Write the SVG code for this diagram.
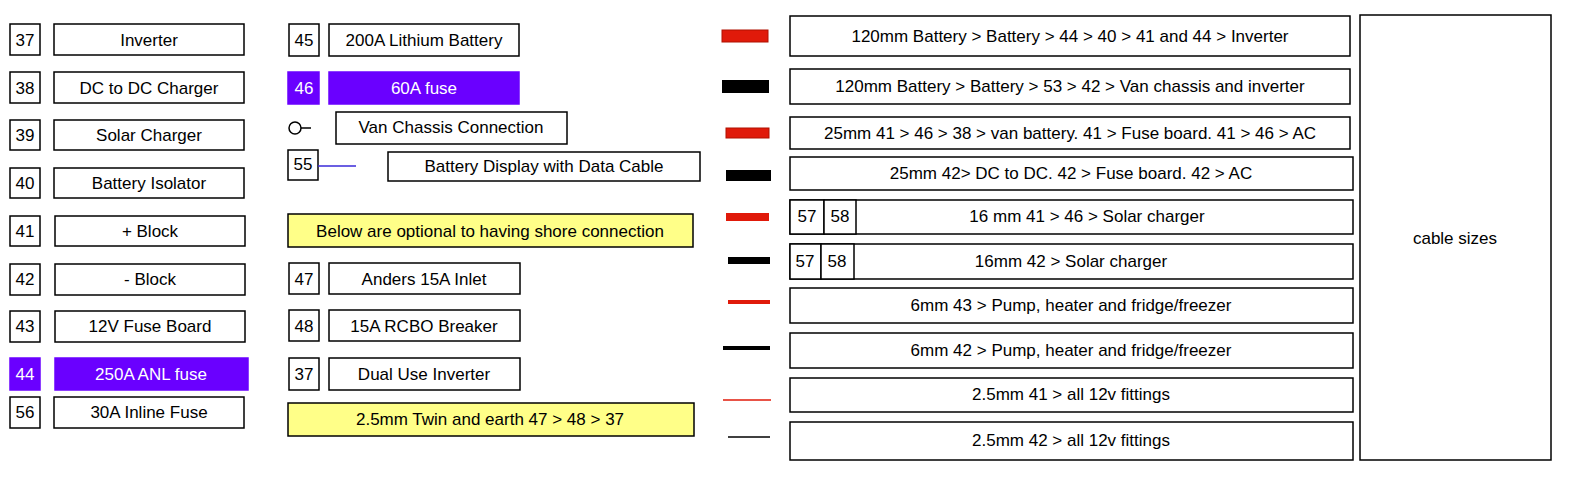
<svg xmlns="http://www.w3.org/2000/svg" width="1577" height="489" viewBox="0 0 1577 489">
<style>
rect{fill:#fff;stroke:#000;stroke-width:1.5}
.p{fill:#6a00ff;stroke:#6a00ff}
.y{fill:#ffff88}
text{font-family:"Liberation Sans",Arial,sans-serif;font-size:17px;text-anchor:middle;dominant-baseline:central;fill:#000}
.w{fill:#fff}
.s{stroke:none}
</style>
<rect width="1577" height="489" style="stroke:none"/>
<g id="n37"><rect x="10" y="24" width="30" height="31"/><text x="25" y="40">37</text><rect x="54" y="24" width="190" height="31"/><text x="149" y="40">Inverter</text></g>
<g id="n38"><rect x="10" y="72" width="30" height="31"/><text x="25" y="88">38</text><rect x="54" y="72" width="190" height="31"/><text x="149" y="88">DC to DC Charger</text></g>
<g id="n39"><rect x="10" y="120" width="30" height="30"/><text x="25" y="135">39</text><rect x="54" y="120" width="190" height="30"/><text x="149" y="135">Solar Charger</text></g>
<g id="n40"><rect x="10" y="168" width="30" height="30"/><text x="25" y="183">40</text><rect x="54" y="168" width="190" height="30"/><text x="149" y="183">Battery Isolator</text></g>
<g id="n41"><rect x="10" y="216" width="30" height="30"/><text x="25" y="231">41</text><rect x="55" y="216" width="190" height="30"/><text x="150" y="231">+ Block</text></g>
<g id="n42"><rect x="10" y="264" width="30" height="31"/><text x="25" y="279">42</text><rect x="55" y="264" width="190" height="31"/><text x="150" y="279">- Block</text></g>
<g id="n43"><rect x="10" y="311" width="30" height="31"/><text x="25" y="326">43</text><rect x="55" y="311" width="190" height="31"/><text x="150" y="326">12V Fuse Board</text></g>
<g id="n44"><rect class="p" x="10" y="358" width="30" height="32"/><text class="w" x="25" y="374">44</text><rect class="p" x="55" y="358" width="193" height="32"/><text class="w" x="151" y="374">250A  ANL fuse</text></g>
<g id="n56"><rect x="10" y="397" width="30" height="31"/><text x="25" y="412">56</text><rect x="54" y="397" width="190" height="31"/><text x="149" y="412">30A Inline Fuse</text></g>
<g id="n45"><rect x="289" y="24" width="30" height="32"/><text x="304" y="40">45</text><rect x="329" y="24" width="190" height="32"/><text x="424" y="40">200A Lithium Battery</text></g>
<g id="n46"><rect class="p" x="288" y="72" width="31" height="32"/><text class="w" x="304" y="88">46</text><rect class="p" x="329" y="72" width="190" height="32"/><text class="w" x="424" y="88">60A fuse</text></g>
<g id="chassis"><circle cx="295" cy="128" r="6" fill="#fff" stroke="#000" stroke-width="1.5"/><line x1="301" y1="128" x2="311" y2="128" stroke="#000" stroke-width="1.5"/><rect x="336" y="112" width="231" height="32"/><text x="451" y="127">Van Chassis Connection</text></g>
<g id="n55"><rect x="288" y="150" width="30" height="30"/><text x="303" y="164">55</text><line x1="318" y1="166" x2="356" y2="166" stroke="#3a2ad8" stroke-width="1.5"/><rect x="388" y="152" width="312" height="29"/><text x="544" y="166">Battery Display with Data Cable</text></g>
<g id="shore"><rect class="y" x="288" y="214" width="405" height="33"/><text x="490" y="231">Below are optional to having shore connection</text></g>
<g id="n47"><rect x="289" y="263" width="30" height="31"/><text x="304" y="279">47</text><rect x="329" y="263" width="191" height="31"/><text x="424" y="279">Anders 15A Inlet</text></g>
<g id="n48"><rect x="289" y="310" width="30" height="31"/><text x="304" y="326">48</text><rect x="329" y="310" width="191" height="31"/><text x="424" y="326">15A RCBO Breaker</text></g>
<g id="n37b"><rect x="289" y="358" width="30" height="32"/><text x="304" y="374">37</text><rect x="329" y="358" width="191" height="32"/><text x="424" y="374">Dual Use Inverter</text></g>
<g id="twin"><rect class="y" x="288" y="403" width="406" height="33"/><text x="490" y="419">2.5mm Twin and earth  47 &gt; 48 &gt; 37</text></g>
<g id="swatches">
<rect x="722" y="30" width="46" height="12" fill="#e01a0a" style="fill:#e01a0a;stroke:#b01000;stroke-width:1"/>
<rect x="722" y="80" width="47" height="13" style="fill:#000;stroke:none"/>
<rect x="726" y="128" width="43" height="10" style="fill:#e01a0a;stroke:#b01000;stroke-width:1"/>
<rect x="726" y="170" width="45" height="11" style="fill:#000;stroke:none"/>
<rect x="726" y="213" width="43" height="8" style="fill:#e01a0a;stroke:none"/>
<rect x="728" y="257" width="42" height="7" style="fill:#000;stroke:none"/>
<rect x="728" y="300" width="42" height="4" style="fill:#e01a0a;stroke:none"/>
<rect x="723" y="346" width="47" height="4" style="fill:#000;stroke:none"/>
<line x1="723" y1="400" x2="771" y2="400" stroke="#e01a0a" stroke-width="1.5"/>
<line x1="728" y1="437" x2="770" y2="437" stroke="#000" stroke-width="1.5"/>
</g>
<g id="c1"><rect x="790" y="16" width="560" height="40"/><text x="1070" y="36">120mm Battery &gt; Battery &gt; 44 &gt; 40 &gt; 41 and 44 &gt; Inverter</text></g>
<g id="c2"><rect x="790" y="69" width="560" height="35"/><text x="1070" y="86">120mm Battery &gt; Battery &gt; 53 &gt; 42 &gt; Van chassis and inverter</text></g>
<g id="c3"><rect x="790" y="117" width="560" height="32"/><text x="1070" y="133">25mm 41 &gt; 46 &gt; 38 &gt; van battery. 41 &gt; Fuse board. 41 &gt; 46 &gt; AC</text></g>
<g id="c4"><rect x="790" y="157" width="563" height="33"/><text x="1071" y="173">25mm 42&gt; DC to DC. 42 &gt; Fuse board. 42 &gt; AC</text></g>
<g id="c5"><rect x="790" y="200" width="563" height="34"/><rect x="790" y="200" width="34" height="34"/><rect x="824" y="200" width="32" height="34"/><text x="807" y="216">57</text><text x="840" y="216">58</text><text x="1087" y="216">16 mm 41 &gt; 46 &gt; Solar charger</text></g>
<g id="c6"><rect x="790" y="244" width="563" height="35"/><rect x="790" y="244" width="31" height="35"/><rect x="821" y="244" width="33" height="35"/><text x="805" y="261">57</text><text x="837" y="261">58</text><text x="1071" y="261">16mm 42 &gt; Solar charger</text></g>
<g id="c7"><rect x="790" y="288" width="563" height="35"/><text x="1071" y="305">6mm 43 &gt; Pump, heater and fridge/freezer</text></g>
<g id="c8"><rect x="790" y="333" width="563" height="35"/><text x="1071" y="350">6mm 42 &gt; Pump, heater and fridge/freezer</text></g>
<g id="c9"><rect x="790" y="378" width="563" height="34"/><text x="1071" y="394">2.5mm 41 &gt; all 12v fittings</text></g>
<g id="c10"><rect x="790" y="422" width="563" height="38"/><text x="1071" y="440">2.5mm 42 &gt; all 12v fittings</text></g>
<g id="sizes"><rect x="1360" y="15" width="191" height="445"/><text x="1455" y="238">cable sizes</text></g>
<g id="connectors"/>
</svg>
